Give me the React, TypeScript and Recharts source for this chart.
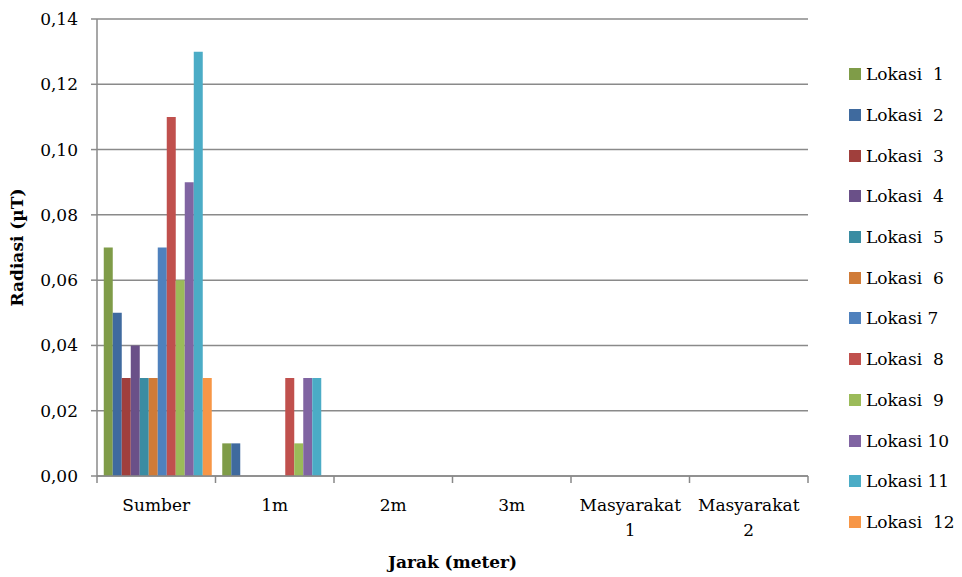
import React from "react";
import { BarChart, Bar, XAxis, YAxis, CartesianGrid } from "recharts";

const categories = ["Sumber", "1m", "2m", "3m", "Masyarakat 1", "Masyarakat 2"];
const locations = [
  "Lokasi  1",
  "Lokasi  2",
  "Lokasi  3",
  "Lokasi  4",
  "Lokasi  5",
  "Lokasi  6",
  "Lokasi 7",
  "Lokasi  8",
  "Lokasi  9",
  "Lokasi 10",
  "Lokasi 11",
  "Lokasi  12",
];
// one row per location, one value per category
const radiation = [
  [0.07, 0.01, 0, 0, 0, 0],
  [0.05, 0.01, 0, 0, 0, 0],
  [0.03, 0, 0, 0, 0, 0],
  [0.04, 0, 0, 0, 0, 0],
  [0.03, 0, 0, 0, 0, 0],
  [0.03, 0, 0, 0, 0, 0],
  [0.07, 0, 0, 0, 0, 0],
  [0.11, 0.03, 0, 0, 0, 0],
  [0.06, 0.01, 0, 0, 0, 0],
  [0.09, 0.03, 0, 0, 0, 0],
  [0.13, 0.03, 0, 0, 0, 0],
  [0.03, 0, 0, 0, 0, 0],
];
const yTicks = [0, 0.02, 0.04, 0.06, 0.08, 0.1, 0.12, 0.14];
const COLORS = [
  "#7F9C48",
  "#3F6A9E",
  "#A03F3C",
  "#6A5088",
  "#3A8CA2",
  "#D07B38",
  "#4F81BD",
  "#C0504D",
  "#9BBB59",
  "#8064A2",
  "#4BACC6",
  "#F79646",
];

const data = categories.map((name, ci) => {
  const row: Record<string, string | number> = { name };
  locations.forEach((loc, li) => {
    row[loc] = radiation[li][ci];
  });
  return row;
});

const FONT = "'DejaVu Serif', serif";
const W = 962;
const H = 577;
const M = { top: 19, right: 154, left: 0, bottom: 0 };
const Y_W = 97;
const BAND = (W - M.right - Y_W) / categories.length;

const XTick = (props: any) => {
  const { x, y, payload, index } = props;
  const lines = String(payload.value).split(" ");
  const left = x - BAND / 2;
  return (
    <g>
      <line x1={left} x2={left} y1={y} y2={y + 7} stroke="#888" strokeWidth={1.5} />
      {index === categories.length - 1 && (
        <line x1={x + BAND / 2} x2={x + BAND / 2} y1={y} y2={y + 7} stroke="#888" strokeWidth={1.5} />
      )}
      <text x={x} y={y + 35} textAnchor="middle" fontFamily={FONT} fontSize={17} fill="#000">
        {lines.map((l, i) => (
          <tspan key={i} x={x} dy={i === 0 ? 0 : 25}>
            {l}
          </tspan>
        ))}
      </text>
    </g>
  );
};

const App = () => {
  return (
    <div style={{ position: "absolute", left: 0, top: 0, width: W, height: H, background: "#fff" }}>
      <BarChart width={W} height={H} data={data} margin={M} barCategoryGap="5.7%" barGap={0}>
        <CartesianGrid vertical={false} stroke="#8a8a8a" strokeWidth={1.5} />
        <XAxis
          dataKey="name"
          height={101}
          stroke="#8a8a8a"
          strokeWidth={1.5}
          tickLine={false}
          tickSize={0}
          tickMargin={0}
          interval={0}
          tick={<XTick />}
          label={{
            value: "Jarak (meter)",
            position: "insideBottom",
            offset: 9,
            style: { fontFamily: FONT, fontSize: 17, fontWeight: "bold", fill: "#000" },
          }}
        />
        <YAxis
          width={Y_W}
          domain={[0, 0.14]}
          ticks={yTicks}
          interval={0}
          stroke="#8a8a8a"
          strokeWidth={1.5}
          tickSize={6}
          tickMargin={13}
          tickFormatter={(v: number) => v.toFixed(2).replace(".", ",")}
          tick={{ fontFamily: FONT, fontSize: 17, fill: "#000" }}
          label={{
            value: "Radiasi (µT)",
            angle: -90,
            position: "insideLeft",
            offset: 17,
            style: { fontFamily: FONT, fontSize: 17, fontWeight: "bold", fill: "#000", textAnchor: "middle" },
          }}
        />
        {locations.map((loc, i) => (
          <Bar key={loc} dataKey={loc} fill={COLORS[i]} isAnimationActive={false} />
        ))}
      </BarChart>
      <div
        style={{
          position: "absolute",
          left: 849,
          top: 54,
          fontFamily: FONT,
          fontSize: 17,
          color: "#000",
        }}
      >
        {locations.map((loc, i) => (
          <div
            key={`leg-${i}`}
            style={{ display: "flex", alignItems: "center", height: 40.7, whiteSpace: "pre" }}
          >
            <span
              style={{ display: "inline-block", width: 12, height: 12, background: COLORS[i], marginRight: 5 }}
            />
            <span>{loc}</span>
          </div>
        ))}
      </div>
    </div>
  );
};

export default App;
